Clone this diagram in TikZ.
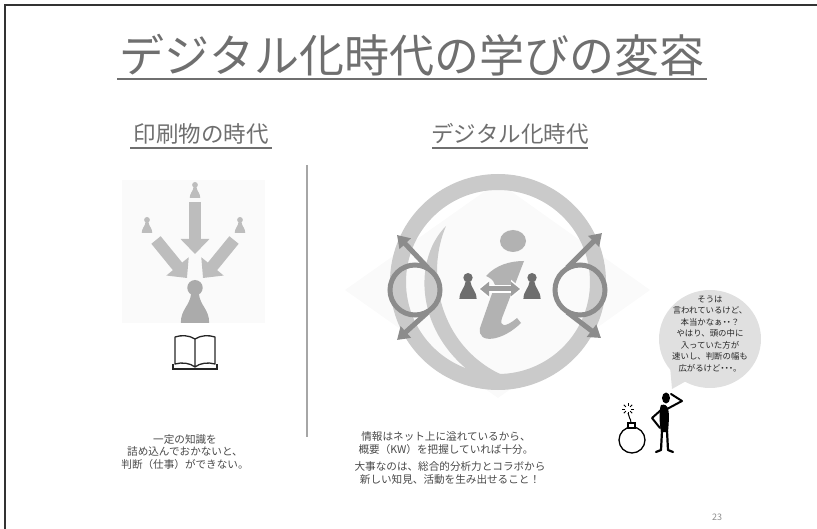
\documentclass[tikz,border=0pt]{standalone}
\usepackage{fontspec}
\setmainfont{Noto Sans CJK JP}
\newfontfamily\propfont{Noto Sans CJK JP}[RawFeature=+palt]
\usetikzlibrary{arrows.meta,calc}

\definecolor{titlegray}{HTML}{6F6F6F}
\definecolor{textgray}{HTML}{484848}
\definecolor{iconlight}{HTML}{BDBDBD}
\definecolor{ringgray}{HTML}{CACACA}
\definecolor{symgray}{HTML}{8C8C8C}
\definecolor{pawndark}{HTML}{6E6E6E}
\definecolor{bubblefill}{HTML}{E0E0E0}

% pawn figure: #1,#2 = top centre, #3 = height, #4 = colour
\newcommand\pawnicon[4]{%
  \begin{scope}[shift={(#1,#2)}, scale=#3]
    \fill[#4] (0,0.18) circle[radius=0.18];
    \fill[#4] (-0.09,0.32) -- (0.09,0.32)
      .. controls (0.12,0.6) and (0.33,0.68) .. (0.33,1) -- (-0.33,1)
      .. controls (-0.33,0.68) and (-0.12,0.6) .. (-0.09,0.32) -- cycle;
  \end{scope}}

\tikzset{
  maintitle/.style={font=\fontsize{45}{50}\selectfont, text=titlegray, inner sep=0pt},
  subtitle/.style={font=\fontsize{22.5}{26}\selectfont, text=titlegray, inner sep=0pt},
  bodytext/.style={font=\fontsize{10.6}{12.8}\selectfont, text=textgray, align=center, inner sep=0pt},
  bubbletext/.style={font=\fontsize{8.4}{11.5}\selectfont, text=black!85, align=center, inner sep=0pt},
  underline/.style={draw=titlegray, line width=1.6pt},
  blockarrow/.style={draw=iconlight, line width=12pt, -{Triangle[width=28pt,length=15pt]}},
  symline/.style={draw=symgray, line width=5pt, -{Triangle[width=15pt,length=12pt]}},
}

\begin{document}
\begin{tikzpicture}[x=1pt,y=-1pt]
\useasboundingbox (0,0) rectangle (817,529);

% slide frame
\draw[black!80, line width=1.2pt] (5,529) -- (5,5) -- (817,5);

% headings
\node[maintitle] (title) at (412,55) {デジタル化時代の学びの変容};
\draw[underline, line width=2.6pt] (117,79) -- (707,79);
\node[subtitle] (printhead) at (201,134) {印刷物の時代};
\draw[underline] (130,148) -- (272,148);
\node[subtitle] (dighead) at (510,134) {デジタル化時代};
\draw[underline] (432,148) -- (588,148);

% column divider
\draw[black!35, line width=1.5pt] (307,165) -- (307,437);

% ---- print era icon ----
\fill[black!2] (122,180) rectangle (265,323);
\pawnicon{195}{182}{16}{iconlight}
\pawnicon{147}{217}{16}{iconlight}
\pawnicon{240}{217}{16}{iconlight}
\draw[blockarrow] (195,202) -- (195,254);
\draw[blockarrow] (156,240) -- (187,278);
\draw[blockarrow] (234,240) -- (203,278);
\pawnicon{195}{280}{43}{black!33}

% open book
\draw[black!85, line width=1.3pt, line join=round]
  (195,339) .. controls (189,335) and (181,335) .. (175,337) -- (175,364)
  .. controls (182,362) and (190,363) .. (195,367)
  .. controls (200,363) and (208,362) .. (215,364) -- (215,337)
  .. controls (209,335) and (201,335) .. (195,339) -- (195,367);
\draw[black!85, line width=1.3pt] (173,364) -- (173,369) -- (217,369) -- (217,364);

% ---- digital era icon ----
\fill[black!2] (345,290) -- (498,182) -- (650,290) -- (498,398) -- cycle;
\draw[ringgray, line width=16pt] (498,282) circle[radius=100];
% inner swoosh
\fill[ringgray] (446,226) .. controls (410,262) and (415,345) .. (492,386)
  -- (500,374) .. controls (440,345) and (425,275) .. (446,226) -- cycle;

% the letter i
\fill[black!30] (513,241) ellipse[x radius=13, y radius=11];
\fill[black!30] (486,276) .. controls (496,265) and (510,261) .. (524,261)
  -- (502,318) .. controls (499,327) and (505,328) .. (517,318)
  -- (521,323) .. controls (503,341) and (477,345) .. (480,328)
  -- (495,285) .. controls (493,279) and (490,278) .. (486,276) -- cycle;

% exchanging pawns
\pawnicon{468}{273}{26}{pawndark}
\pawnicon{532}{273}{26}{pawndark}
\draw[white, line width=8pt, {Triangle[width=18pt,length=11pt]}-{Triangle[width=18pt,length=11pt]}] (478,289) -- (522,289);
\draw[black!38, line width=5pt, {Triangle[width=14pt,length=9pt]}-{Triangle[width=14pt,length=9pt]}] (480,289) -- (520,289);

% circle-and-arrow symbols
\draw[symgray, line width=5pt] (415,290) circle[radius=25];
\draw[symline] (428,268) -- (397,235);
\draw[symline] (428,312) -- (397,340);
\draw[symgray, line width=5pt] (580,290) circle[radius=25];
\draw[symline] (567,268) -- (602,233);
\draw[symline] (567,312) -- (601,338);

% ---- captions ----
\node[bodytext] (printtext) at (185,452) {一定の知識を\\詰め込んでおかないと、\\判断（仕事）ができない。};
\node[bodytext] (digtext1) at (446,443) {情報はネット上に溢れているから、\\概要（KW）を把握していれば十分。};
\node[bodytext] (digtext2) at (450,473) {大事なのは、総合的分析力とコラボから\\新しい知見、活動を生み出せること！};

% ---- speech bubble ----
\fill[bubblefill] (710,339) ellipse[x radius=51, y radius=49];
\fill[bubblefill] (670,366) -- (672,389) -- (688,380) -- cycle;
\node[bubbletext] (doubt) at (710,334) {そうは\\言われているけど、\\本当かなぁ{\propfont ・・}？\\やはり、頭の中に\\入っていた方が\\速いし、判断の幅も\\広がるけど{\propfont ・・・}。};

% ---- thinking figure ----
\fill[black] (666,398) ellipse[x radius=4, y radius=5.5];
\fill[black] (661,405) .. controls (669,403) and (670,410) .. (668,432)
  -- (661,432) .. controls (659,420) and (659,410) .. (661,405) -- cycle;
\draw[black, line width=2pt, line join=round, line cap=round] (667,409) -- (682,401) -- (671,394);
\draw[black, line width=2pt, line join=round, line cap=round] (661,410) -- (652,418) -- (660,428);
\draw[black, line width=2.2pt, line join=round, line cap=round] (662,431) -- (661,450) -- (656,452);
\draw[black, line width=2.2pt, line join=round, line cap=round] (667,431) -- (668,450) -- (673,452);

% bomb
\draw[black, line width=1.3pt, fill=white] (632,440) circle[radius=13];
\draw[black, line width=1.3pt, fill=white] (628,423) rectangle (635,428);
\draw[black, line width=1pt] (631,423) .. controls (631,418) and (628,417) .. (628,413);
\foreach \a in {0,45,...,315}
  \draw[black, line width=0.8pt] ($(628,409)+(\a:3)$) -- ($(628,409)+(\a:6)$);

% page number
\node[font=\fontsize{9}{10}\selectfont, text=black!45, inner sep=0pt] (pageno) at (717,517) {23};
\end{tikzpicture}
\end{document}
